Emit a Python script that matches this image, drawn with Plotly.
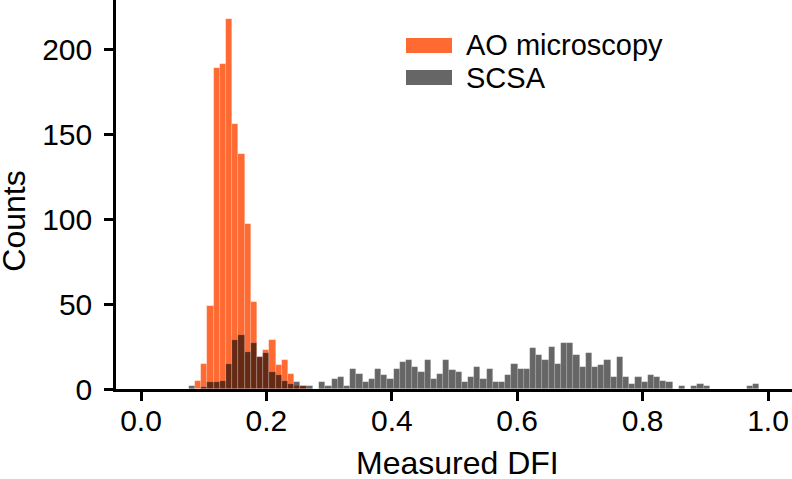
import plotly.graph_objects as go

# ---- data ----
# Shared histogram bins (width), first bin centre ~0.0813
bin_first_center = 0.0813
bin_width = 0.00989

ao_counts = [0, 5, 15, 49, 189, 191, 218, 156, 138, 97, 51, 19, 23, 29, 14, 17, 9, 2, 2] + [0] * 73

scsa_counts = [
    2, 0, 1, 4, 4, 5, 15, 29, 32, 22,
    27, 19, 21, 10, 8, 5, 3, 4, 2, 2,
    0, 4, 2, 6, 7, 2, 12, 9, 4, 6,
    12, 8, 6, 12, 16, 17, 13, 10, 17, 6,
    9, 17, 11, 10, 4, 7, 13, 6, 12, 4,
    4, 8, 15, 12, 12, 24, 20, 17, 25, 15,
    27, 27, 20, 13, 21, 13, 14, 17, 7, 19,
    7, 3, 7, 4, 8, 7, 5, 4, 0, 2,
    0, 2, 3, 2, 0, 0, 0, 0, 0, 0,
    2, 3,
]

bin_centers = [bin_first_center + i * bin_width for i in range(len(scsa_counts))]

series_names = ["AO microscopy", "SCSA"]
x_tick_vals = [0.0, 0.2, 0.4, 0.6, 0.8, 1.0]
x_tick_text = ["0.0", "0.2", "0.4", "0.6", "0.8", "1.0"]
y_tick_vals = [0, 50, 100, 150, 200]

# ---- styling ----
ORANGE = "#FF6A33"
GRAY = "rgba(0,0,0,0.6)"
FONT = "Liberation Sans, Arial, Helvetica, sans-serif"

W, H = 792, 479
ML, MR, MT, MB = 116, 0, 0, 90
PW, PH = W - ML - MR, H - MT - MB


def px(xp):
    return (xp - ML) / PW


def py(yp):
    return (MT + PH - yp) / PH


fig = go.Figure()
fig.add_trace(go.Bar(
    x=bin_centers, y=ao_counts, width=bin_width, name=series_names[0],
    marker=dict(color=ORANGE, line=dict(color="rgba(255,255,255,0.25)", width=0.6)),
    showlegend=False,
))
fig.add_trace(go.Bar(
    x=bin_centers, y=scsa_counts, width=bin_width, name=series_names[1],
    marker=dict(color=GRAY, line=dict(color="rgba(255,255,255,0.3)", width=0.6)),
    showlegend=False,
))

# custom legend (swatches + labels)
legend_rows = [(series_names[0], ORANGE, 45.5), (series_names[1], GRAY, 77.5)]
shapes = []
annotations = []
for name, col, yc in legend_rows:
    shapes.append(dict(type="rect", xref="paper", yref="paper",
                       x0=px(406), x1=px(452), y0=py(yc + 7.5), y1=py(yc - 7.5),
                       fillcolor=col, line=dict(width=0)))
    annotations.append(dict(text=name, xref="paper", yref="paper", x=px(464), y=py(yc),
                            xanchor="left", yanchor="middle", showarrow=False,
                            font=dict(size=29, color="black", family=FONT)))

annotations.append(dict(text="Counts", xref="paper", yref="paper", x=px(14), y=py(221.7),
                        textangle=-90, xanchor="center", yanchor="middle", showarrow=False,
                        font=dict(size=32, color="black", family=FONT)))
annotations.append(dict(text="Measured DFI", xref="paper", yref="paper", x=px(457), y=py(463),
                        xanchor="center", yanchor="middle", showarrow=False,
                        font=dict(size=32, color="black", family=FONT)))

fig.update_layout(
    width=W, height=H,
    margin=dict(l=ML, r=MR, t=MT, b=MB, autoexpand=False),
    barmode="overlay", bargap=0,
    plot_bgcolor="white", paper_bgcolor="white",
    font=dict(family=FONT, size=30, color="black"),
    shapes=shapes, annotations=annotations,
    xaxis=dict(
        range=[(ML - 141) / 627, (W - 141) / 627],
        tickmode="array", tickvals=x_tick_vals, ticktext=x_tick_text,
        showline=True, linecolor="black", linewidth=2.5,
        ticks="outside", ticklen=9, tickwidth=2.5, tickcolor="black",
        showgrid=False, zeroline=False, automargin=False,
        ticklabelstandoff=-6,
        tickfont=dict(size=30, family=FONT),
    ),
    yaxis=dict(
        range=[0, 228.9],
        tickmode="array", tickvals=y_tick_vals,
        showline=True, linecolor="black", linewidth=2.5,
        ticks="outside", ticklen=9, tickwidth=2.5, tickcolor="black",
        showgrid=False, zeroline=False, automargin=False,
        ticklabelstandoff=6,
        tickfont=dict(size=30, family=FONT),
    ),
)

fig.write_html(
    "out.html",
    config={"displayModeBar": False},
    post_script="document.body.style.margin='0';document.body.style.padding='0';",
)
